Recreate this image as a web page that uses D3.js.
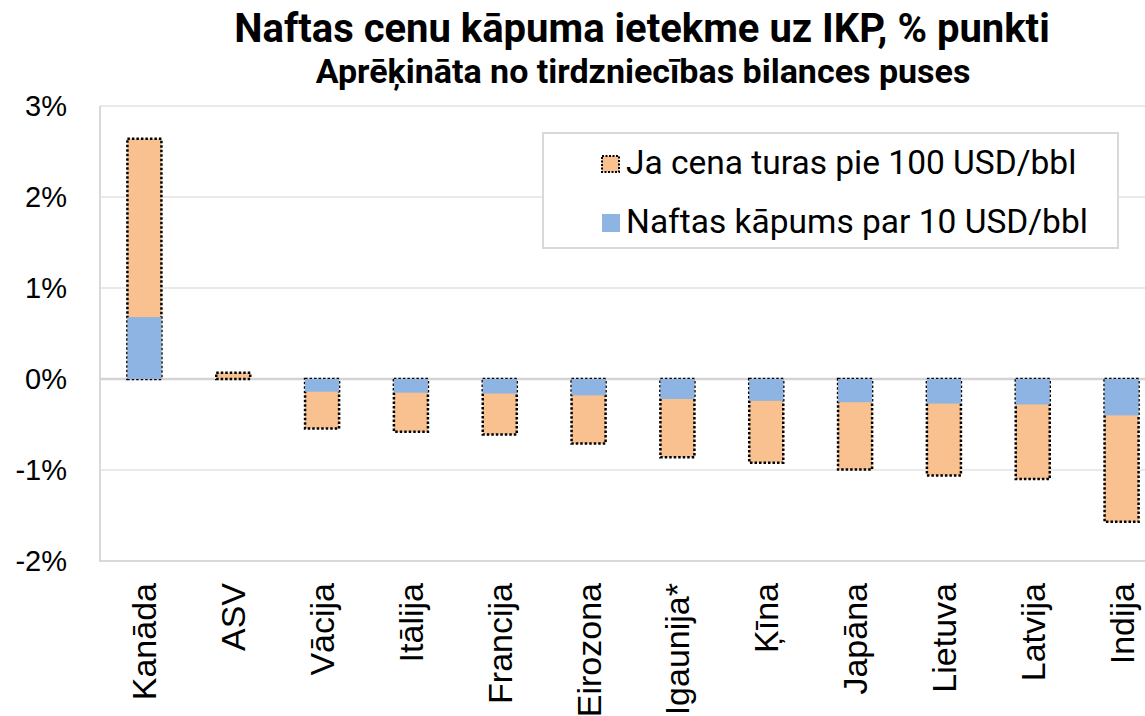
<!DOCTYPE html>
<html>
<head>
<meta charset="utf-8">
<script src="https://cdn.jsdelivr.net/npm/d3@7"></script>
<style>
  body { margin: 0; background: #fff; }
  svg { display: block; }
</style>
</head>
<body>
<svg width="1145" height="716"></svg>
<script>
const width = 1145, height = 716;

// data
const countries = ["Kanāda", "ASV", "Vācija", "Itālija", "Francija", "Eirozona",
                   "Igaunija*", "Ķīna", "Japāna", "Lietuva", "Latvija", "Indija"];
const stayAt100 = [2.64, 0.07, -0.545, -0.58, -0.61, -0.71, -0.86, -0.92, -0.995, -1.06, -1.10, -1.57];
const rise10 = [0.68, 0.0, -0.14, -0.15, -0.16, -0.18, -0.22, -0.24, -0.255, -0.27, -0.28, -0.40];
const yTicks = [-2, -1, 0, 1, 2, 3];
const seriesNames = ["Ja cena turas pie 100 USD/bbl", "Naftas kāpums par 10 USD/bbl"];

const orange = "#F9C18F", blue = "#8EB4E3";
const plot = {left: 100, right: 1166, top: 106, bottom: 561};

const data = countries.map((c, i) => ({country: c, total: stayAt100[i], rise: rise10[i]}));

const svg = d3.select("svg");

const x = d3.scaleBand()
    .domain(countries)
    .range([plot.left, plot.right])
    .paddingInner(0.617)
    .paddingOuter(0.3085);

const y = d3.scaleLinear()
    .domain([-2, 3])
    .range([plot.bottom, plot.top]);

// gridlines
svg.append("g")
  .selectAll("line")
  .data(yTicks.filter(t => t !== 0 && t !== -2))
  .enter().append("line")
    .attr("x1", plot.left).attr("x2", width)
    .attr("y1", d => y(d)).attr("y2", d => y(d))
    .attr("stroke", "#E3E3E3")
    .attr("stroke-width", 1.5);

// plot border (left + bottom)
svg.append("path")
  .attr("d", `M${plot.left},${plot.top}V${plot.bottom}H${width}`)
  .attr("fill", "none")
  .attr("stroke", "#D9D9D9")
  .attr("stroke-width", 2);

// zero line
svg.append("line")
  .attr("x1", plot.left).attr("x2", width)
  .attr("y1", y(0)).attr("y2", y(0))
  .attr("stroke", "#D4D4D4")
  .attr("stroke-width", 2.5);

// y tick labels
svg.append("g")
  .selectAll("text")
  .data(yTicks)
  .enter().append("text")
    .attr("x", 67)
    .attr("y", d => y(d))
    .attr("dy", "0.36em")
    .attr("text-anchor", "end")
    .attr("font-family", "Liberation Sans, Arial")
    .attr("font-size", "29px")
    .attr("fill", "#000")
    .text(d => d + "%");

// bars: total (orange, dotted border) then the 10 USD part (blue) on top
const bars = svg.append("g");
bars.selectAll("rect.total")
  .data(data)
  .enter().append("rect")
    .attr("class", "total")
    .attr("x", d => x(d.country))
    .attr("width", x.bandwidth())
    .attr("y", d => y(Math.max(0, d.total)))
    .attr("height", d => Math.abs(y(d.total) - y(0)))
    .attr("fill", orange)
    .attr("stroke", "#000")
    .attr("stroke-width", 2.5)
    .attr("stroke-dasharray", "2.5,2");

bars.selectAll("rect.rise")
  .data(data.filter(d => d.rise !== 0))
  .enter().append("rect")
    .attr("class", "rise")
    .attr("x", d => x(d.country))
    .attr("width", x.bandwidth())
    .attr("y", d => y(Math.max(0, d.rise)))
    .attr("height", d => Math.abs(y(d.rise) - y(0)))
    .attr("fill", blue);

// x labels
svg.append("g")
  .selectAll("text")
  .data(countries)
  .enter().append("text")
    .attr("transform", d => `translate(${x(d) + x.bandwidth() / 2 + 12}, 583) rotate(-90)`)
    .attr("text-anchor", "end")
    .attr("font-family", "Liberation Sans, Arial")
    .attr("font-size", "34px")
    .attr("fill", "#000")
    .text(d => d);

// title
svg.append("text")
  .attr("x", 642).attr("y", 42)
  .attr("text-anchor", "middle")
  .attr("font-family", "Roboto")
  .attr("font-weight", "bold")
  .attr("font-size", "40px")
  .text("Naftas cenu kāpuma ietekme uz IKP, % punkti");

svg.append("text")
  .attr("x", 643).attr("y", 83)
  .attr("text-anchor", "middle")
  .attr("font-family", "Roboto")
  .attr("font-weight", "bold")
  .attr("font-size", "34px")
  .text("Aprēķināta no tirdzniecības bilances puses");

// legend
const legend = svg.append("g");
legend.append("rect")
  .attr("x", 543).attr("y", 133)
  .attr("width", 575).attr("height", 115)
  .attr("fill", "#fff")
  .attr("stroke", "#D9D9D9")
  .attr("stroke-width", 2);

legend.append("rect")
  .attr("x", 602).attr("y", 156)
  .attr("width", 17).attr("height", 16)
  .attr("fill", orange)
  .attr("stroke", "#000")
  .attr("stroke-width", 2)
  .attr("stroke-dasharray", "2,1.5");

legend.append("rect")
  .attr("x", 602).attr("y", 214)
  .attr("width", 18).attr("height", 18)
  .attr("fill", blue);

legend.selectAll("text")
  .data(seriesNames)
  .enter().append("text")
    .attr("x", 626)
    .attr("y", (d, i) => 174 + i * 59)
    .attr("font-family", "Roboto")
    .attr("font-size", "33.5px")
    .attr("fill", "#000")
    .text(d => d);
</script>
</body>
</html>
